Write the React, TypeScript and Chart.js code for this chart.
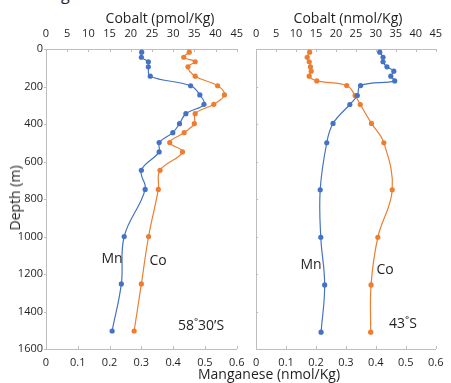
import React, { useEffect, useRef } from 'react';
import { Chart, registerables } from 'chart.js';

Chart.register(...registerables);

// ---- tick labels ----
const depthTickLabels = ['0', '200', '400', '600', '800', '1000', '1200', '1400', '1600'];
const mnTickLabels = ['0', '0.1', '0.2', '0.3', '0.4', '0.5', '0.6'];
const coTickLabels = ['0', '5', '10', '15', '20', '25', '30', '35', '40', '45'];

// ---- 58°30'S station ----
const southDepth = [17, 44, 68, 95, 145, 196, 245, 295, 345, 398, 446, 499, 549, 647, 749, 1000, 1253, 1504];
const southMn = [0.301, 0.300, 0.322, 0.322, 0.328, 0.455, 0.484, 0.497, 0.440, 0.420, 0.399, 0.356, 0.356, 0.300, 0.312, 0.246, 0.237, 0.208];
const southCo = [33.8, 32.5, 35.2, 33.5, 35.2, 40.5, 42.1, 39.6, 35.2, 35.0, 32.6, 29.2, 32.2, 26.9, 26.5, 24.2, 22.5, 20.8];

// ---- 43°S station ----
const northDepth = [17, 44, 68, 95, 118, 145, 170, 195, 248, 296, 397, 500, 751, 1004, 1258, 1510];
const northMn = [0.413, 0.424, 0.424, 0.437, 0.460, 0.450, 0.463, 0.349, 0.338, 0.313, 0.257, 0.236, 0.214, 0.216, 0.229, 0.217];
const northCo = [13.4, 12.8, 13.3, 13.6, 13.8, 13.3, 15.2, 22.7, 24.8, 26.1, 28.9, 32.0, 34.1, 30.5, 28.8, 28.7];

const BLUE = '#4472C4';
const ORANGE = '#ED7D31';
const AXIS = '#bdbdbd';
const TEXT = '#231f20';
const FONT = "'Open Sans', 'Noto Sans', sans-serif";

const tickMarks = {
  id: 'tickMarks',
  afterDraw(chart: any, _args: any, opts: any) {
    const ctx = chart.ctx;
    const { left, top, bottom } = chart.chartArea;
    const L = 3;
    ctx.save();
    ctx.strokeStyle = AXIS;
    ctx.lineWidth = 1;
    for (const id of ['x', 'x2', 'y']) {
      const s = chart.scales[id];
      s.ticks.forEach((t: any) => {
        const p = Math.round(s.getPixelForValue(t.value)) + 0.5;
        ctx.beginPath();
        if (id === 'x') {
          ctx.moveTo(p, bottom);
          ctx.lineTo(p, bottom - L);
        } else if (id === 'x2') {
          ctx.moveTo(p, top);
          ctx.lineTo(p, top + L);
        } else if (opts && opts.yOutside) {
          ctx.moveTo(left - 2, p);
          ctx.lineTo(left, p);
        } else {
          ctx.moveTo(left, p);
          ctx.lineTo(left + 2, p);
        }
        ctx.stroke();
      });
    }
    ctx.restore();
  },
};

function makeConfig(depth: number[], mn: number[], co: number[], withLabels: boolean, yWidth: number, padRight: number): any {
  const tickFont = { family: FONT, size: 11 };
  const noGrid = { display: false, drawTicks: false, tickLength: 0 };
  return {
    type: 'scatter',
    data: {
      datasets: [
        {
          label: 'Mn',
          data: depth.map((d, i) => ({ x: mn[i], y: d })),
          xAxisID: 'x',
          yAxisID: 'y',
          borderColor: BLUE,
          backgroundColor: BLUE,
          showLine: true,
          tension: 0.4,
          borderWidth: 1.2,
          pointRadius: 2.6,
          pointBorderWidth: 0,
        },
        {
          label: 'Co',
          data: depth.map((d, i) => ({ x: co[i], y: d })),
          xAxisID: 'x2',
          yAxisID: 'y',
          borderColor: ORANGE,
          backgroundColor: ORANGE,
          showLine: true,
          tension: 0.4,
          borderWidth: 1.2,
          pointRadius: 2.6,
          pointBorderWidth: 0,
        },
      ],
    },
    options: {
      animation: false,
      responsive: false,
      maintainAspectRatio: false,
      devicePixelRatio: 1,
      layout: { padding: { left: 0, right: padRight, top: 0, bottom: 0 } },
      plugins: {
        legend: { display: false },
        tooltip: { enabled: false },
        tickMarks: { yOutside: withLabels },
      },
      scales: {
        x: {
          type: 'linear',
          position: 'bottom',
          min: 0,
          max: 0.6,
          ticks: {
            stepSize: 0.1,
            padding: 7,
            font: tickFont,
            color: TEXT,
            maxRotation: 0,
            callback: (v: number) => mnTickLabels[Math.round(v * 10)],
          },
          grid: noGrid,
          border: { display: true, color: AXIS },
          afterFit: (a: any) => { a.height = 34; },
        },
        x2: {
          type: 'linear',
          position: 'top',
          min: 0,
          max: 45,
          ticks: {
            stepSize: 5,
            padding: 9,
            font: tickFont,
            color: TEXT,
            maxRotation: 0,
            callback: (v: number) => coTickLabels[Math.round(v / 5)],
          },
          grid: noGrid,
          border: { display: true, color: AXIS },
          afterFit: (a: any) => { a.height = 49; },
        },
        y: {
          type: 'linear',
          position: 'left',
          reverse: true,
          min: 0,
          max: 1600,
          ticks: {
            stepSize: 200,
            display: withLabels,
            padding: 3,
            font: tickFont,
            color: TEXT,
            callback: (v: number) => depthTickLabels[Math.round(v / 200)],
          },
          grid: noGrid,
          border: { display: true, color: AXIS },
          afterFit: (a: any) => { a.width = yWidth; },
        },
      },
    },
    plugins: [tickMarks],
  };
}

function Panel(props: { left: number; width: number; cfg: () => any }) {
  const ref = useRef<HTMLCanvasElement | null>(null);
  useEffect(() => {
    if (!ref.current) return;
    const chart = new Chart(ref.current, props.cfg());
    return () => chart.destroy();
  }, []);
  return (
    <canvas
      ref={ref}
      width={props.width}
      height={383}
      style={{ position: 'absolute', left: props.left, top: 0, width: props.width, height: 383 }}
    />
  );
}

function Label(props: { x: number; y: number; size: number; text: string; rotate?: boolean }) {
  return (
    <div
      style={{
        position: 'absolute',
        left: props.x,
        top: props.y,
        transform: `translate(-50%, -50%)${props.rotate ? ' rotate(-90deg)' : ''}`,
        fontFamily: FONT,
        fontSize: props.size,
        color: TEXT,
        whiteSpace: 'nowrap',
        lineHeight: 1,
      }}
    >
      {props.text}
    </div>
  );
}

export default function App() {
  return (
    <div style={{ position: 'absolute', left: 0, top: 0, width: 451, height: 383, overflow: 'hidden', background: '#fff' }}>
      <div style={{ position: 'absolute', left: 61, top: -14, fontFamily: FONT, fontSize: 16, lineHeight: 1, color: TEXT }}>g</div>
      <Panel left={0} width={252} cfg={() => makeConfig(southDepth, southMn, southCo, true, 46, 11)} />
      <Panel left={244} width={207} cfg={() => makeConfig(northDepth, northMn, northCo, false, 7, 8)} />
      <Label x={160} y={18} size={14} text="Cobalt (pmol/Kg)" />
      <Label x={348} y={18} size={14} text="Cobalt (nmol/Kg)" />
      <Label x={269} y={374} size={14} text="Manganese (nmol/Kg)" />
      <Label x={15} y={198} size={14} text="Depth (m)" rotate />
      <Label x={112} y={258} size={14} text="Mn" />
      <Label x={158} y={260} size={14} text="Co" />
      <Label x={201} y={325} size={14} text="58˚30’S" />
      <Label x={311} y={264} size={14} text="Mn" />
      <Label x={385} y={269} size={14} text="Co" />
      <Label x={403} y={323} size={14} text="43˚S" />
    </div>
  );
}
